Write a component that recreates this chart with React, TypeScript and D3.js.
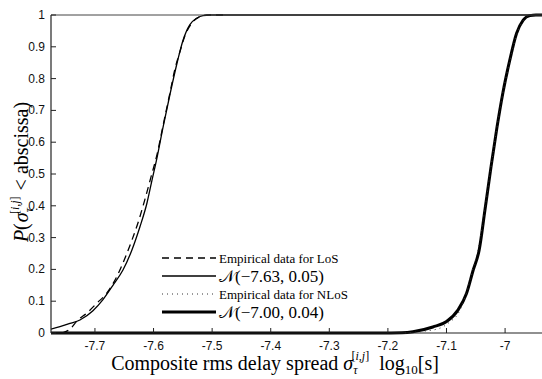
import React from "react";
import * as d3 from "d3";

// x tick values
const xTicks = [-7.7, -7.6, -7.5, -7.4, -7.3, -7.2, -7.1, -7.0];
const xTickLabels = ["-7.7", "-7.6", "-7.5", "-7.4", "-7.3", "-7.2", "-7.1", "-7"];
const yTicks = [0, 0.1, 0.2, 0.3, 0.4, 0.5, 0.6, 0.7, 0.8, 0.9, 1];
const yTickLabels = ["0", "0.1", "0.2", "0.3", "0.4", "0.5", "0.6", "0.7", "0.8", "0.9", "1"];

// Normal fit for LoS
const losFitX = [-7.7751, -7.7597, -7.7427, -7.7256, -7.7034, -7.6863, -7.6693, -7.6522, -7.6369, -7.6232, -7.6113, -7.6027, -7.5942, -7.584, -7.572, -7.5584, -7.5498, -7.5379, -7.5259, -7.5157, -7.5038, -6.9];
const losFitP = [0.012, 0.02, 0.03, 0.041, 0.07, 0.105, 0.15, 0.198, 0.261, 0.334, 0.408, 0.48, 0.55, 0.645, 0.75, 0.86, 0.92, 0.97, 0.99, 0.998, 1, 1];

// Empirical LoS
const losEmpX = [-7.7563, -7.7427, -7.729, -7.7137, -7.6966, -7.6795, -7.6625, -7.6488, -7.6369, -7.6266, -7.6147, -7.6044, -7.5942, -7.584, -7.572, -7.5635, -7.5549, -7.5464, -7.5345, -7.5208, -7.5089, -7.48];
const losEmpP = [0.0, 0.012, 0.041, 0.063, 0.094, 0.126, 0.178, 0.235, 0.292, 0.346, 0.42, 0.49, 0.56, 0.65, 0.755, 0.83, 0.885, 0.935, 0.975, 0.995, 1, 1];

// Normal fit for NLoS
const nlosFitX = [-7.8, -7.2137, -7.176, -7.1573, -7.1232, -7.0999, -7.0805, -7.0657, -7.0544, -7.0442, -7.0345, -7.0242, -7.014, -7.0038, -6.992, -6.9805, -6.9691, -6.9577, -6.9474, -6.9];
const nlosFitP = [0, 0, 0.001, 0.004, 0.019, 0.036, 0.072, 0.125, 0.198, 0.261, 0.385, 0.52, 0.645, 0.755, 0.858, 0.942, 0.984, 0.998, 1, 1];

// Empirical NLoS
const nlosEmpX = [-7.171, -7.1369, -7.1113, -7.0942, -7.0805, -7.0686, -7.0567, -7.0464, -7.0345, -7.0242, -7.014, -7.0038, -6.9918, -6.9799, -6.9679, -6.9543];
const nlosEmpP = [0, 0.006, 0.015, 0.035, 0.06, 0.11, 0.19, 0.26, 0.39, 0.52, 0.645, 0.755, 0.855, 0.94, 0.985, 1];

const legendLabels = ["Empirical data for LoS", "\u{1D4A9}(\u22127.63, 0.05)", "Empirical data for NLoS", "\u{1D4A9}(\u22127.00, 0.04)"];

const W = 542;
const H = 379;
const L = 51, R = 542, T = 15, B = 333;

export default function App() {
  const x = d3.scaleLinear().domain([-7.775, -6.937]).range([L, R]);
  const y = d3.scaleLinear().domain([0, 1]).range([B, T]);
  const mk = (xs: number[], ps: number[]) =>
    d3.line<number>().x((_, i) => x(xs[i])).y((_, i) => y(ps[i])).curve(d3.curveMonotoneX)(xs.map((_, i) => i)) || "";
  const serif = "'Liberation Serif', 'DejaVu Serif', serif";
  const sans = "'Liberation Sans', Arial, sans-serif";
  const legendStyles = [
    { dash: "7,5", w: 1.3 },
    { dash: "none", w: 1.3 },
    { dash: "1,4", w: 1 },
    { dash: "none", w: 3 },
  ];
  const legendY = [258, 276, 294, 312];
  return (
    <svg width={W} height={H} style={{ position: "absolute", left: 0, top: 0, background: "#fff" }}>
      <defs>
        <clipPath id="plot">
          <rect x={L} y={T - 2} width={R - L} height={B - T + 4} />
        </clipPath>
      </defs>
      <rect x={0} y={0} width={W} height={H} fill="#fff" />
      <g clipPath="url(#plot)" fill="none" stroke="#000" strokeLinejoin="round">
        <path d={mk(nlosFitX, nlosFitP)} strokeWidth={3} />
        <path d={mk(nlosEmpX, nlosEmpP)} strokeWidth={1} strokeDasharray="1,4" stroke="#333" />
        <path d={mk(losFitX, losFitP)} strokeWidth={1.3} />
        <path d={mk(losEmpX, losEmpP)} strokeWidth={1.3} strokeDasharray="7,5" />
      </g>
      {/* axes */}
      <line x1={L} x2={R} y1={T} y2={T} stroke="#444" strokeWidth={1} />
      <line x1={L} x2={R} y1={B} y2={B} stroke="#222" strokeWidth={1.2} />
      <line x1={L} x2={L} y1={T} y2={B} stroke="#222" strokeWidth={1.2} />
      {xTicks.map((t, i) => (
        <g key={"x" + i}>
          <line x1={x(t)} x2={x(t)} y1={B} y2={B - 5} stroke="#222" />
          <text x={x(t)} y={350} textAnchor="middle" fontFamily={sans} fontSize={12} fill="#111">
            {xTickLabels[i]}
          </text>
        </g>
      ))}
      {yTicks.map((t, i) => (
        <g key={"y" + i}>
          <line x1={L} x2={L + 5} y1={y(t)} y2={y(t)} stroke="#222" />
          <text x={45} y={y(t) + 4} textAnchor="end" fontFamily={sans} fontSize={12} fill="#111">
            {yTickLabels[i]}
          </text>
        </g>
      ))}
      {/* legend */}
      {legendLabels.map((lab, i) => (
        <g key={"lg" + i}>
          <line x1={162} x2={216} y1={legendY[i]} y2={legendY[i]} stroke={i === 2 ? "#333" : "#000"} strokeWidth={legendStyles[i].w} strokeDasharray={legendStyles[i].dash} />
          <text x={219} y={legendY[i] + (i % 2 === 0 ? 4.5 : 6)} fontFamily={serif} fontSize={i % 2 === 0 ? 13 : 17} fill="#000">
            {lab}
          </text>
        </g>
      ))}
      {/* x label */}
      <text x={275} y={370} textAnchor="middle" fontFamily={serif} fontSize={20} fill="#000">
        Composite rms delay spread <tspan fontStyle="italic">σ</tspan>
        <tspan fontSize={12} fontStyle="italic" dy={4}>τ</tspan>
        <tspan fontSize={12} dx={-6} dy={-14}>[</tspan><tspan fontSize={12} fontStyle="italic">i,j</tspan><tspan fontSize={12}>]</tspan>
        <tspan dy={10} dx={10}>log</tspan>
        <tspan fontSize={13} dy={4}>10</tspan>
        <tspan dy={-4}>[s]</tspan>
      </text>
      {/* y label */}
      <text transform={`translate(28,172) rotate(-90)`} textAnchor="middle" fontFamily={serif} fontSize={20} fill="#000">
        <tspan fontStyle="italic">P</tspan>(<tspan fontStyle="italic" dx={1}>σ</tspan>
        <tspan fontSize={12} fontStyle="italic" dy={5}>τ</tspan>
        <tspan fontSize={12} dx={-6} dy={-14}>[</tspan><tspan fontSize={12} fontStyle="italic">i,j</tspan><tspan fontSize={12}>]</tspan>
        <tspan dy={9} dx={6}>{"< abscissa)"}</tspan>
      </text>
    </svg>
  );
}
